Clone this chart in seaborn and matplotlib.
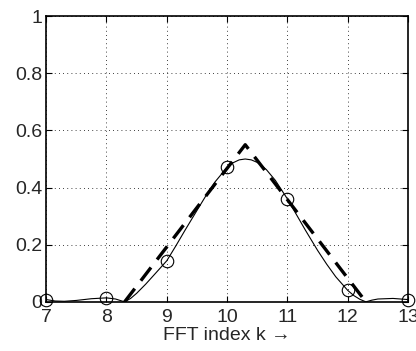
import matplotlib
matplotlib.use("Agg")
import matplotlib.pyplot as plt
import seaborn as sns

# FFT bins (circles)
bin_k = [7, 8, 9, 10, 11, 12, 13]
bin_mag = [0.008, 0.014, 0.144, 0.471, 0.360, 0.040, 0.008]

# continuous spectrum (thin solid line)
curve_k = [7.0, 7.15, 7.3, 7.5, 7.75, 8.0, 8.15, 8.3, 8.4, 8.5, 8.65, 8.8,
           9.0, 9.15, 9.3, 9.5, 9.65, 9.8, 10.0, 10.1, 10.2, 10.3, 10.4,
           10.5, 10.65, 10.8, 11.0, 11.15, 11.3, 11.5, 11.65, 11.8, 12.0,
           12.1, 12.2, 12.3, 12.4, 12.5, 12.75, 13.0]
curve_mag = [0.008, 0.003, 0.002, 0.005, 0.011, 0.014, 0.010, 0.0, 0.012,
             0.030, 0.062, 0.097, 0.144, 0.196, 0.250, 0.320, 0.372, 0.420,
             0.471, 0.487, 0.497, 0.500, 0.497, 0.488, 0.463, 0.425, 0.360,
             0.305, 0.250, 0.180, 0.132, 0.088, 0.040, 0.022, 0.009, 0.0,
             0.006, 0.010, 0.012, 0.008]

# triangular approximation (thick dashed line)
tri_k = [8.3, 10.3, 12.3]
tri_mag = [0.0, 0.55, 0.0]

sns.set_style("white")
plt.rcParams["font.family"] = ["Liberation Sans", "DejaVu Sans"]
plt.rcParams["font.size"] = 14

fig = plt.figure(figsize=(4.16, 3.51), dpi=100)
ax = fig.add_axes([0.111, 0.14, 0.87, 0.814])

sns.lineplot(x=tri_k, y=tri_mag, color="black", lw=2.4, ax=ax,
             linestyle=(0, (5, 3)))
sns.lineplot(x=curve_k, y=curve_mag, color="black", lw=0.8, ax=ax)
ax.plot(bin_k, bin_mag, "o", ms=9, mfc="none", mec="black", mew=0.8,
        clip_on=False, zorder=5)

ax.set_xlim(7, 13)
ax.set_ylim(0, 1)
ax.set_xticks(bin_k)
ax.set_yticks([0, 0.2, 0.4, 0.6, 0.8, 1])
ax.set_yticklabels(["0", "0.2", "0.4", "0.6", "0.8", "1"])
ax.set_xlabel("FFT index k \u2192", labelpad=1)
ax.set_ylabel("")
ax.grid(True, color="black", linestyle=(0, (1, 4)), lw=0.6)
ax.tick_params(direction="in", length=4, width=0.8, color="black", pad=3,
               top=True, right=True, bottom=True, left=True)
ax.tick_params(axis="x", pad=5)
for s in ax.spines.values():
    s.set_color("black")
    s.set_linewidth(1.2)

fig.savefig("out.png", dpi=100)
